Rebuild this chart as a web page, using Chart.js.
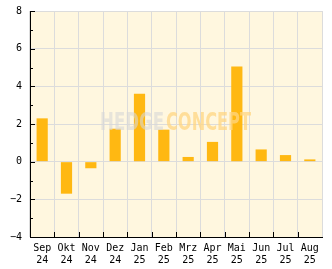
<!DOCTYPE html>
<html>
<head>
<meta charset="utf-8">
<script src="https://cdn.jsdelivr.net/npm/chart.js@4"></script>
<style>
html, body { margin: 0; padding: 0; background: #fff; }
#wrap { width: 332px; height: 269px; }
</style>
</head>
<body>
<div id="wrap"><canvas id="barChart" width="332" height="269"></canvas></div>
<script>
var months = ["Sep", "Okt", "Nov", "Dez", "Jan", "Feb", "Mrz", "Apr", "Mai", "Jun", "Jul", "Aug"];
var years = ["24", "24", "24", "24", "25", "25", "25", "25", "25", "25", "25", "25"];
var returns = [2.3, -1.7, -0.35, 1.75, 3.6, 1.7, 0.25, 1.05, 5.05, 0.65, 0.35, 0.12];
var yTicks = [-4, -2, 0, 2, 4, 6, 8];

var labels = months.map(function (m, i) { return [m, years[i]]; });
var monoFont = { family: "'DejaVu Sans Mono', monospace", size: 10, lineHeight: 1.25 };

// background, inward ticks, watermark
var extras = {
    id: 'extras',
    beforeDraw: function (chart) {
        var a = chart.chartArea, ctx = chart.ctx;
        ctx.save();
        ctx.fillStyle = '#fff7df';
        ctx.fillRect(a.left, a.top, a.right - a.left, a.bottom - a.top);
        ctx.restore();
    },
    afterDatasetsDraw: function (chart) {
        var a = chart.chartArea, ctx = chart.ctx;
        var y = chart.scales.y, x = chart.scales.x;
        ctx.save();
        ctx.font = "bold 24px 'DejaVu Sans Condensed', sans-serif";
        ctx.textBaseline = 'middle';
        ctx.textAlign = 'left';
        var cy = y.getPixelForValue(2) - 0.5;
        ctx.fillStyle = 'rgba(215,215,215,0.6)';
        ctx.fillText('HEDGE', 100, cy, 64);
        ctx.fillStyle = 'rgba(255,214,130,0.75)';
        ctx.fillText('CONCEPT', 166, cy, 85);
        ctx.restore();

        ctx.save();
        ctx.strokeStyle = '#000';
        ctx.lineWidth = 1;
        ctx.beginPath();
        for (var v = yTicks[0]; v <= yTicks[yTicks.length - 1]; v++) {
            var py = Math.round(y.getPixelForValue(v)) + 0.5;
            var len = (v % 2 === 0) ? 5 : 3;
            ctx.moveTo(a.left, py);
            ctx.lineTo(a.left + len, py);
        }
        for (var i = 1; i < months.length; i++) {
            var px = Math.round((x.getPixelForValue(i - 1) + x.getPixelForValue(i)) / 2) + 0.5;
            ctx.moveTo(px, a.bottom);
            ctx.lineTo(px, a.bottom - 5);
        }
        ctx.stroke();
        ctx.restore();
    }
};

var bar = document.getElementById('barChart');
var chart = new Chart(bar, {
    type: 'bar',
    data: {
        labels: labels,
        datasets: [{
            data: returns,
            backgroundColor: '#ffb812',
            barPercentage: 0.46,
            categoryPercentage: 1
        }]
    },
    options: {
        responsive: false,
        animation: false,
        layout: { padding: { top: 11, right: 10, left: 0, bottom: 0 } },
        plugins: {
            legend: { display: false },
            tooltip: { enabled: false }
        },
        scales: {
            x: {
                offset: true,
                grid: { offset: true, color: '#dcdcdc', drawTicks: false },
                border: { color: '#000' },
                ticks: { color: '#000', font: monoFont, padding: 5, maxRotation: 0, autoSkip: false },
                afterFit: function (s) { s.height = 32; s.paddingLeft = 0; s.paddingRight = 0; }
            },
            y: {
                min: -4,
                max: 8,
                afterBuildTicks: function (s) {
                    s.ticks = yTicks.map(function (v) { return { value: v }; });
                },
                grid: { color: '#dcdcdc', drawTicks: false },
                border: { color: '#000' },
                ticks: {
                    color: '#000',
                    font: monoFont,
                    padding: 8,
                    callback: function (v) { return String(v).replace('-', '\u2212'); }
                },
                afterFit: function (s) { s.width = 30; s.paddingTop = 0; s.paddingBottom = 0; }
            }
        }
    },
    plugins: [extras]
});
</script>
</body>
</html>
